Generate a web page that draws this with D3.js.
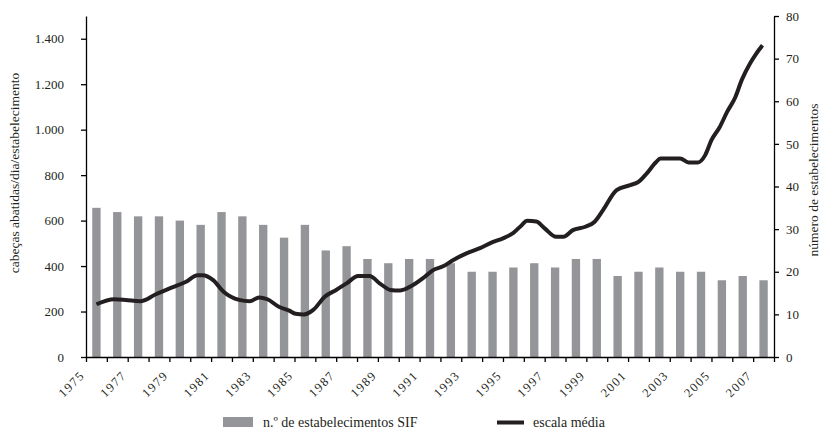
<!DOCTYPE html>
<html>
<head>
<meta charset="utf-8">
<script src="https://cdn.jsdelivr.net/npm/d3@7"></script>
<style>
  body { margin: 0; background: #fff; }
  text { font-family: "Liberation Serif", "DejaVu Serif", serif; fill: #231f20; }
</style>
</head>
<body>
<div id="chart"></div>
<script>
const width = 823;
const height = 430;
const margin = { top: 16, right: 49, bottom: 73, left: 86 };

// anos (categorias das barras)
const years = [1975, 1976, 1977, 1978, 1979, 1980, 1981, 1982, 1983, 1984, 1985,
  1986, 1987, 1988, 1989, 1990, 1991, 1992, 1993, 1994, 1995, 1996, 1997, 1998,
  1999, 2000, 2001, 2002, 2003, 2004, 2005, 2006, 2007];

// n.º de estabelecimentos SIF (eixo direito)
const nEstab = [35, 34, 33, 33, 32, 31, 34, 33, 31, 28, 31, 25, 26, 23, 22, 23,
  23, 22, 20, 20, 21, 22, 21, 23, 23, 19, 20, 21, 20, 20, 18, 19, 18];

// escala média (cabeças abatidas/dia/estabelecimento), [ano decimal, valor]
const escalaMedia = [
  [1975.5, 232], [1976.35, 254], [1976.9, 251], [1977.6, 245], [1978.35, 276],
  [1979.1, 305], [1979.8, 331], [1980.35, 360], [1980.6, 360], [1981.1, 338],
  [1981.6, 287], [1982.35, 251], [1982.85, 245], [1983.3, 262], [1983.7, 254],
  [1984.25, 221], [1984.75, 204], [1985.05, 190], [1985.45, 187], [1985.9, 207],
  [1986.45, 265], [1987.0, 295], [1987.5, 324], [1988.05, 356], [1988.6, 356],
  [1989.1, 323], [1989.6, 295], [1990.05, 292], [1990.6, 312], [1991.25, 353],
  [1991.65, 382], [1992.15, 400], [1992.6, 426], [1993.25, 456], [1993.9, 479],
  [1994.5, 505], [1995.0, 522], [1995.5, 546], [1995.9, 580], [1996.15, 599],
  [1996.6, 596], [1997.0, 566], [1997.55, 529], [1997.9, 529], [1998.35, 558],
  [1998.95, 573], [1999.4, 595], [1999.8, 646], [2000.45, 734], [2001.1, 756],
  [2001.5, 770], [2001.9, 808], [2002.35, 858], [2002.55, 873], [2003.5, 873],
  [2003.9, 856], [2004.35, 856], [2004.7, 888], [2005.0, 954], [2005.4, 1012],
  [2005.75, 1078], [2006.15, 1144], [2006.45, 1218], [2006.85, 1291],
  [2007.15, 1335], [2007.45, 1371]
];

const xTickLabels = ["1975", "1977", "1979", "1981", "1983", "1985", "1987", "1989",
  "1991", "1993", "1995", "1997", "1999", "2001", "2003", "2005", "2007"];
const leftTicks = [0, 200, 400, 600, 800, 1000, 1200, 1400];
const rightTicks = [0, 10, 20, 30, 40, 50, 60, 70, 80];

const pt = d3.formatLocale({ decimal: ",", thousands: ".", grouping: [3], currency: ["R$", ""] });

const svg = d3.select("#chart")
  .append("svg")
  .attr("width", width)
  .attr("height", height);

const x0 = margin.left;
const x1 = width - margin.right;
const yBase = height - margin.bottom;

const xTime = d3.scaleLinear()
  .domain([1975, 2008])
  .range([x0, x1]);

const xBand = d3.scaleBand()
  .domain(years)
  .range([x0, x1])
  .paddingInner(0.6)
  .paddingOuter(0.3);

const yLeft = d3.scaleLinear()
  .domain([0, 1500])
  .range([yBase, margin.top]);

const yRight = d3.scaleLinear()
  .domain([0, 80])
  .range([yBase, margin.top]);

// barras
svg.append("g")
  .selectAll("rect")
  .data(years)
  .enter()
  .append("rect")
  .attr("x", d => xBand(d))
  .attr("y", (d, i) => yRight(nEstab[i]))
  .attr("width", xBand.bandwidth())
  .attr("height", (d, i) => yBase - yRight(nEstab[i]))
  .attr("fill", "#939598");

// linha
const line = d3.line()
  .x(d => xTime(d[0]))
  .y(d => yLeft(d[1]))
  .curve(d3.curveMonotoneX);

svg.append("path")
  .datum(escalaMedia)
  .attr("fill", "none")
  .attr("stroke", "#231f20")
  .attr("stroke-width", 4)
  .attr("stroke-linejoin", "round")
  .attr("d", line);

// eixos
const styleAxis = g => {
  g.select(".domain").attr("stroke", "#000").attr("stroke-width", 1.3);
  g.selectAll(".tick line").attr("stroke", "#000").attr("stroke-width", 1.3);
  g.selectAll("text")
    .style("font-family", "'Liberation Serif', serif")
    .style("font-size", "13px")
    .attr("fill", "#231f20");
};

svg.append("g")
  .attr("transform", `translate(${x0},0)`)
  .call(d3.axisLeft(yLeft)
    .tickValues(leftTicks)
    .tickSize(5)
    .tickSizeOuter(0)
    .tickPadding(17)
    .tickFormat(pt.format(",")))
  .call(styleAxis);

svg.append("g")
  .attr("transform", `translate(${x1},0)`)
  .call(d3.axisRight(yRight)
    .tickValues(rightTicks)
    .tickSize(5)
    .tickSizeOuter(0)
    .tickPadding(7))
  .call(styleAxis);

svg.append("g")
  .attr("transform", `translate(0,${yBase})`)
  .call(d3.axisBottom(xTime)
    .tickValues(d3.range(1975, 2009))
    .tickSize(5)
    .tickSizeOuter(0)
    .tickFormat(d => xTickLabels.includes(String(d)) ? String(d) : ""))
  .call(styleAxis)
  .selectAll("text")
  .attr("y", 0)
  .attr("dy", null)
  .attr("text-anchor", "end")
  .style("font-size", "12.5px")
  .style("letter-spacing", "1.5px")
  .attr("transform", "translate(-1,19) rotate(-45)");

// títulos dos eixos
svg.append("text")
  .attr("transform", "translate(19,173) rotate(-90)")
  .attr("text-anchor", "middle")
  .style("font-size", "13.5px")
  .text("cabeças abatidas/dia/estabelecimento");

svg.append("text")
  .attr("transform", "translate(818,180) rotate(-90)")
  .attr("text-anchor", "middle")
  .style("font-size", "13.5px")
  .text("número de estabelecimentos");

// legenda
const legend = svg.append("g");

legend.append("rect")
  .attr("x", 223)
  .attr("y", 417)
  .attr("width", 30)
  .attr("height", 10)
  .attr("fill", "#939598");

legend.append("text")
  .attr("x", 263)
  .attr("y", 427)
  .style("font-size", "14px")
  .text("n.º de estabelecimentos SIF");

legend.append("line")
  .attr("x1", 497)
  .attr("x2", 524)
  .attr("y1", 422.5)
  .attr("y2", 422.5)
  .attr("stroke", "#231f20")
  .attr("stroke-width", 4);

legend.append("text")
  .attr("x", 533)
  .attr("y", 427)
  .style("font-size", "14px")
  .text("escala média");
</script>
</body>
</html>
